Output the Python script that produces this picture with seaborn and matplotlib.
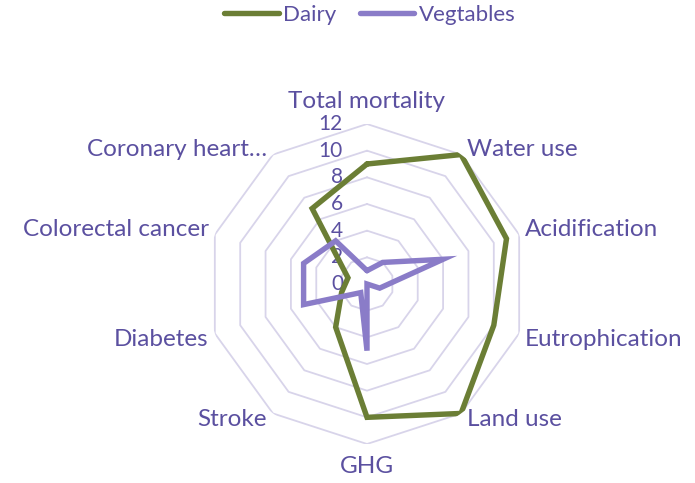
import numpy as np
import pandas as pd
import matplotlib
matplotlib.use("Agg")
import matplotlib.pyplot as plt
import seaborn as sns
from matplotlib.lines import Line2D

categories = ['Total mortality', 'Water use', 'Acidification', 'Eutrophication',
              'Land use', 'GHG', 'Stroke', 'Diabetes', 'Colorectal cancer',
              'Coronary heart…']
dairy = [9, 12, 11, 10, 12, 10, 4, 2, 1.5, 7]
vegtables = [1, 2, 6, 1, 0, 5, 0.8, 5, 5, 4]
series_names = ['Dairy', 'Vegtables']
rings = [0, 2, 4, 6, 8, 10, 12]

sns.set_style("white")
plt.rcParams['font.family'] = ['Lato', 'DejaVu Sans']

TEXT = '#5B50A0'
GRID = '#D8D4EA'
C_DAIRY = '#6B7E35'
C_VEG = '#8A7CC8'

W, H = 695, 483
fig = plt.figure(figsize=(W / 100, H / 100), dpi=100)
cx, cy, R = 367, 284, 160
ax = fig.add_axes([(cx - R) / W, (H - cy - R) / H, 2 * R / W, 2 * R / H], projection='polar')
ax.set_theta_zero_location('N')
ax.set_theta_direction(-1)
ax.set_ylim(0, 12)
ax.grid(False)
ax.spines['polar'].set_visible(False)
ax.set_xticks([])
ax.set_yticks([])
ax.patch.set_alpha(0)

n = len(categories)
theta = np.arange(n) * 2 * np.pi / n
theta_c = np.append(theta, theta[0])

# polygon grid rings
for r in rings[1:]:
    ax.plot(theta_c, [r] * (n + 1), color=GRID, lw=1.3, zorder=1)

df = pd.DataFrame({
    'theta': np.concatenate([theta_c, theta_c]),
    'value': np.concatenate([np.append(dairy, dairy[0]), np.append(vegtables, vegtables[0])]),
    'series': [series_names[0]] * (n + 1) + [series_names[1]] * (n + 1),
})
sns.lineplot(data=df, x='theta', y='value', hue='series', units='series', estimator=None,
             sort=False, palette=[C_DAIRY, C_VEG], lw=3.9, ax=ax, legend=False, zorder=3)
for l in ax.lines[-2:]:
    l.set_solid_joinstyle('miter')
ax.set_xlabel('')
ax.set_ylabel('')

FS_TICK = 15
FS_CAT = 17.5
FS_LEG = 16
# radial tick labels
for r in rings:
    ax.annotate(str(r), xy=(0, r), xytext=(-24, 0), textcoords='offset pixels',
                ha='right', va='center', color=TEXT, fontsize=FS_TICK, zorder=2)

# category labels
for i, (t, lab) in enumerate(zip(theta, categories)):
    s, c = np.sin(t), np.cos(t)
    if abs(s) < 1e-6:
        ha = 'center'
        va = 'bottom' if c > 0 else 'top'
        off = (0, 12) if c > 0 else (0, -12)
    else:
        ha = 'left' if s > 0 else 'right'
        va = 'center'
        off = (6 * np.sign(s), 5 if c > 0 else -6)
    ax.annotate(lab, xy=(t, 12), xytext=off, textcoords='offset pixels',
                ha=ha, va=va, color=TEXT, fontsize=FS_CAT, annotation_clip=False)

handles = [Line2D([0], [0], color=C_DAIRY, lw=3.9, solid_capstyle='round'),
           Line2D([0], [0], color=C_VEG, lw=3.9, solid_capstyle='round')]
fig.legend(handles, series_names, loc='center', bbox_to_anchor=(370 / W, 1 - 15 / H),
           ncol=2, frameon=False, fontsize=FS_LEG, labelcolor=TEXT, handlelength=2.45,
           handletextpad=0.2, columnspacing=1.05)

fig.savefig('out.png', dpi=100)
